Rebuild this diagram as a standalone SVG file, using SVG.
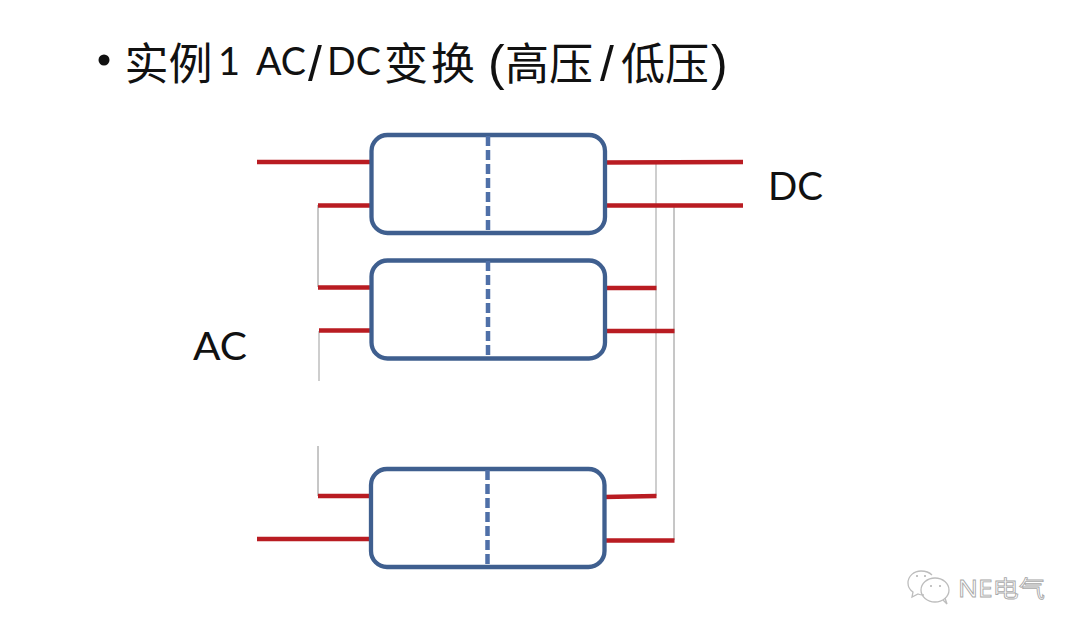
<svg xmlns="http://www.w3.org/2000/svg" width="1080" height="635" viewBox="0 0 1080 635">
<style>
.box{fill:#fff;stroke:#3f5f8f;stroke-width:4.300}
.div{stroke:#4f70a8;stroke-width:4.500;stroke-dasharray:10 4;fill:none}
.red{stroke:#b91c22;stroke-width:4.500;fill:none}
.g1{stroke:#8e8e8e;stroke-width:1;fill:none}
.g2{stroke:#b4b4b4;stroke-width:1.300;fill:none}
.t{font-family:"Lato","Liberation Sans",sans-serif;fill:#111}
.c{font-family:"Noto Sans CJK SC",sans-serif;fill:#111;font-size:44px}
.l{font-size:38px}
.p{font-family:"Liberation Sans",sans-serif;fill:#111;font-size:50px}
.wm{font-family:"Noto Sans","Noto Sans CJK SC",sans-serif;fill:#fff;stroke:#a8a8a8;stroke-width:.8;font-size:23px}
.ic{fill:none;stroke:#bdbdbd;stroke-width:1.300}
</style>
<rect width="1080" height="635" fill="#fff"/>
<g id="title">
<circle cx="104" cy="60" r="5.500" fill="#111"/>
<text class="c" x="124.500" y="80">实例</text>
<text class="t l" x="218" y="75">1</text>
<text class="t l" x="256" y="75" textLength="50" lengthAdjust="spacingAndGlyphs">AC</text>
<text class="p" x="308" y="81">/</text>
<text class="t l" x="327" y="75" textLength="54" lengthAdjust="spacingAndGlyphs">DC</text>
<text class="c" x="384" y="80" textLength="91" lengthAdjust="spacing">变换</text>
<text class="p" x="488" y="80">(</text>
<text class="c" x="505" y="80">高压</text>
<text class="p" x="600" y="81">/</text>
<text class="c" x="621" y="80">低压</text>
<text class="p" x="711" y="80">)</text>
</g>
<g id="connectors">
<path class="g1" d="M318 205V287"/>
<path class="g2" d="M319 331V381"/>
<path class="g1" d="M318 446V496"/>
<path class="g2" d="M656 162V496"/>
<path class="g1" d="M674 206V540"/>
<path class="red" d="M257 162H372M318 205.500H372M318 287.500H372M319 330.500H372M318 496H372M257 539H372"/>
<path class="red" d="M604 162.500L743 162M604 205.500H743M604 288H656.500M604 331H674.500M604 497L656.500 496M604 540.500H674.500"/>
</g>
<g id="box1"><rect class="box" x="371.500" y="135" width="233.500" height="98" rx="16"/><path class="div" d="M488 136V232"/></g>
<g id="box2"><rect class="box" x="371.500" y="260.500" width="233.500" height="98" rx="16"/><path class="div" d="M488 261V358"/></g>
<g id="box3"><rect class="box" x="371" y="469" width="233.500" height="98" rx="16"/><path class="div" d="M487.500 470V566"/></g>
<g id="label-dc"><text class="t" x="768" y="200" font-size="39" textLength="55" lengthAdjust="spacingAndGlyphs">DC</text></g>
<g id="label-ac"><text class="t" x="193" y="360" font-size="39" textLength="54" lengthAdjust="spacingAndGlyphs">AC</text></g>
<g id="watermark">
<path class="ic" d="M932 575C929 572 925 571 921 571C914 571 908 576 908 583C908 587 910 590 913 592L912 597L918 594C920 595 922 595 924 595"/>
<ellipse class="ic" cx="935" cy="590" rx="14" ry="12"/>
<path class="ic" d="M943 600L947 604L945 598"/>
<circle cx="917" cy="576" r="1" fill="#b0b0b0"/><circle cx="925" cy="576" r="1" fill="#b0b0b0"/>
<circle cx="931" cy="586" r="1" fill="#b0b0b0"/><circle cx="940" cy="586" r="1" fill="#b0b0b0"/>
<text class="wm" x="958" y="597" textLength="87" lengthAdjust="spacingAndGlyphs">NE电气</text>
</g>
</svg>
